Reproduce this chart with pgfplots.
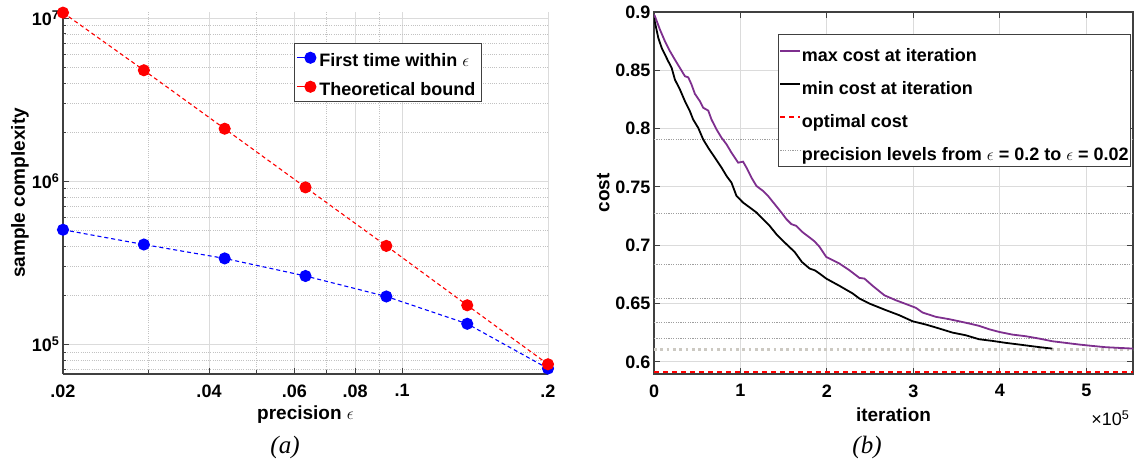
\documentclass[border=0pt]{standalone}
\usepackage{pgfplots}
\pgfplotsset{compat=1.18}
\usepackage{fontspec}
\setmainfont{Liberation Sans}
\newfontfamily\capfont{Liberation Serif}
\definecolor{mpurple}{rgb}{0.494,0.184,0.556}
\definecolor{gridc}{rgb}{0.86,0.86,0.86}
\definecolor{mgridc}{rgb}{0.76,0.76,0.76}
\definecolor{axc}{rgb}{0.25,0.25,0.25}
\definecolor{preccol}{rgb}{0.62,0.62,0.62}
\definecolor{precthick}{rgb}{0.80,0.79,0.76}

\pgfplotstableread{
x y
0.02    5.05e5
0.02936 4.10e5
0.04309 3.37e5
0.06325 2.63e5
0.09283 1.97e5
0.1363  1.34e5
0.2     7.13e4
}\firsttime
\pgfplotstableread{
x y
0.02    1.08e7
0.02936 4.79e6
0.04309 2.10e6
0.06325 9.18e5
0.09283 4.02e5
0.1363  1.74e5
0.2     7.57e4
}\theory
\pgfplotstableread{
x y
0      0.8977
1150   0.8962
6900   0.8848
12700  0.8748
18500  0.8663
24200  0.8591
30000  0.8520
35800  0.8449
39600  0.8440
43400  0.8378
47300  0.8298
53100  0.8235
56900  0.8179
62700  0.8155
66500  0.8078
72300  0.7993
78100  0.7922
83900  0.7865
89600  0.7794
97300  0.7708
103000 0.7717
106900 0.7666
112700 0.7580
118500 0.7508
126100 0.7466
131900 0.7423
139600 0.7352
147300 0.7281
153100 0.7224
158900 0.7181
164600 0.7166
172200 0.7110
179900 0.7067
185700 0.7033
191500 0.6986
199200 0.6900
214500 0.6843
226100 0.6785
237600 0.6720
243400 0.6714
252900 0.6652
266400 0.6571
279900 0.6528
295300 0.6485
303000 0.6463
310600 0.6423
326100 0.6386
341400 0.6366
352900 0.6348
364500 0.6329
376000 0.6309
387500 0.6280
399100 0.6257
414400 0.6234
429900 0.6220
445200 0.6200
460600 0.6177
476000 0.6163
491300 0.6149
506700 0.6137
522100 0.6126
537500 0.6120
554000 0.6114
}\maxcost
\pgfplotstableread{
x y
0      0.8948
5000   0.8777
8900   0.8692
12700  0.8634
16500  0.8577
20400  0.8521
24200  0.8420
30000  0.8335
35800  0.8235
41500  0.8149
45300  0.8078
51100  0.8007
56900  0.7907
62700  0.7836
70400  0.7751
78100  0.7666
83900  0.7594
89600  0.7537
95400  0.7423
103000 0.7366
110700 0.7324
118500 0.7281
126100 0.7224
133800 0.7166
141500 0.7095
149100 0.7038
162700 0.6942
171000 0.6857
180000 0.6800
186000 0.6785
191500 0.6757
199200 0.6714
214500 0.6652
229900 0.6586
237600 0.6543
249100 0.6500
268400 0.6443
283700 0.6400
299100 0.6348
314500 0.6320
329900 0.6286
345200 0.6251
360700 0.6228
376000 0.6194
391300 0.6180
406800 0.6163
422100 0.6149
437500 0.6134
452900 0.6120
460600 0.6114
}\mincost

\begin{document}
\begin{tikzpicture}[x=1pt,y=1pt]
\useasboundingbox (0,0) rectangle (1135,459);
\pgfplotsset{
  every axis/.append style={
    scale only axis,
    font=\fontsize{18}{21}\selectfont\bfseries,
    tick label style={font=\fontsize{18}{21}\selectfont\bfseries},
    xticklabel style={yshift=-7pt},
    label style={font=\fontsize{19}{22}\selectfont\bfseries},
    /pgf/number format/assume math mode=true,
    major grid style={solid, gridc, line width=0.9pt},
    minor grid style={dash pattern=on 1pt off 1.2pt, mgridc, line width=0.8pt},
    tick style={axc, line width=0.9pt},
    major tick length=6pt,
    minor tick length=3.5pt,
    tick align=inside,
    axis line style={axc, line width=1.1pt, -},
  }
}

% ---------------- (a) ----------------
\begin{axis}[
  at={(63pt,85pt)}, anchor=south west,
  width=485pt, height=362pt,
  xmode=log, ymode=log,
  xmin=0.02, xmax=0.2, ymin=6.6e4, ymax=1.09e7,
  axis x line*=bottom, axis y line*=left,
  xtick={0.02,0.04,0.06,0.08,0.1,0.2},
  xticklabels={.02,.04,.06,.08,.1,.2},
  minor xtick={0.03,0.05,0.07,0.09},
  ytick={1e5,1e6,1e7},
  yticklabels={10\textsuperscript{5},10\textsuperscript{6},10\textsuperscript{7}},
  minor ytick={7e4,8e4,9e4,2e5,3e5,4e5,5e5,6e5,7e5,8e5,9e5,2e6,3e6,4e6,5e6,6e6,7e6,8e6,9e6},
  grid=both,
  xlabel={precision $\epsilon$},
  ylabel={sample complexity},
  xlabel style={at={(axis description cs:0.5,-0.113)}, anchor=center},
  ylabel style={at={(axis description cs:-0.0887,0.5)}, anchor=center},
  clip=false,
  legend cell align=left,
  legend style={at={(axis description cs:0.476,0.915)}, anchor=north west,
    draw=axc, line width=1pt, fill=white,
    inner xsep=2.5pt, inner ysep=0pt, row sep=0pt,
    font=\fontsize{18}{21}\selectfont\bfseries,
    nodes={inner xsep=3.5pt, inner ysep=0pt, text height=22.9pt, text depth=6.1pt}},
  legend image code/.code={
    \draw[#1,solid,mark=none] (0pt,0pt) -- (18pt,0pt);
    \draw[#1] plot coordinates {(13pt,0pt)};
  },
]
\addplot[blue, line width=1.1pt, dash pattern=on 4pt off 3pt, mark=*, mark size=5.5pt, mark options={solid, fill=blue, draw=blue}] table[x=x,y=y] {\firsttime};
\addlegendentry{First time within \mbox{$\epsilon$}\hspace{21pt}}
\addplot[red, line width=1.1pt, dash pattern=on 4pt off 3pt, mark=*, mark size=5.5pt, mark options={solid, fill=red, draw=red}] table[x=x,y=y] {\theory};
\addlegendentry{Theoretical bound}
\end{axis}

% ---------------- (b) ----------------
\begin{axis}[
  at={(654pt,85pt)}, anchor=south west,
  width=479pt, height=362pt,
  xmin=0, xmax=554000, ymin=0.5896, ymax=0.9,
  scaled x ticks=false,
  xtick={0,100000,200000,300000,400000,500000},
  xticklabels={0,1,2,3,4,5},
  ytick={0.6,0.65,0.7,0.75,0.8,0.85,0.9},
  yticklabels={0.6,0.65,0.7,0.75,0.8,0.85,0.9},
  grid=major,
  xlabel={iteration},
  ylabel={cost},
  xlabel style={at={(axis description cs:0.5,-0.113)}, anchor=center},
  ylabel style={at={(axis description cs:-0.106,0.5)}, anchor=center},
  legend cell align=left,
  legend style={at={(axis description cs:0.259,0.939)}, anchor=north west,
    draw=axc, line width=1pt, fill=white,
    inner xsep=1pt, inner ysep=0pt, row sep=0pt,
    font=\fontsize{18}{21}\selectfont\bfseries,
    nodes={inner xsep=0.5pt, inner ysep=0pt, text height=26.5pt, text depth=6.5pt}},
  legend image code/.code={
    \draw[#1] (0pt,0pt) -- (20pt,0pt);
  },
]
% precision levels (optimal cost + epsilon)
\addplot[forget plot, preccol, line width=1pt, dash pattern=on 1.2pt off 1.2pt] coordinates {(0,0.791) (554000,0.791)};
\addplot[forget plot, preccol, line width=1pt, dash pattern=on 1.2pt off 1.2pt] coordinates {(0,0.7273) (554000,0.7273)};
\addplot[forget plot, preccol, line width=1pt, dash pattern=on 1.2pt off 1.2pt] coordinates {(0,0.6838) (554000,0.6838)};
\addplot[forget plot, preccol, line width=1pt, dash pattern=on 1.2pt off 1.2pt] coordinates {(0,0.6543) (554000,0.6543)};
\addplot[forget plot, preccol, line width=1pt, dash pattern=on 1.2pt off 1.2pt] coordinates {(0,0.6341) (554000,0.6341)};
\addplot[forget plot, preccol, line width=1pt, dash pattern=on 1.2pt off 1.2pt] coordinates {(0,0.6204) (554000,0.6204)};
\addplot[forget plot, precthick, line width=3pt, dash pattern=on 2.7pt off 3.6pt] coordinates {(0,0.611) (554000,0.611)};

\addplot[mpurple, line width=1.8pt] table[x=x,y=y] {\maxcost};
\addlegendentry{max cost at iteration}
\addplot[black, line width=1.8pt] table[x=x,y=y] {\mincost};
\addlegendentry{min cost at iteration}
\addplot[red, line width=1.8pt, dash pattern=on 5pt off 4pt] coordinates {(0,0.591) (554000,0.591)};
\addlegendentry{optimal cost}
\addlegendimage{preccol, line width=1pt, dash pattern=on 1.2pt off 1.2pt}
\addlegendentry{precision levels from \mbox{$\epsilon$} = 0.2 to \mbox{$\epsilon$} = 0.02}
\end{axis}

\node[anchor=east, font=\fontsize{18}{21}\selectfont] at (1133,41) {×10\textsuperscript{5}};
\node[font=\fontsize{25}{28}\selectfont\capfont\itshape] at (285,12) {(a)};
\node[font=\fontsize{25}{28}\selectfont\capfont\itshape] at (867,12) {(b)};
\end{tikzpicture}
\end{document}
